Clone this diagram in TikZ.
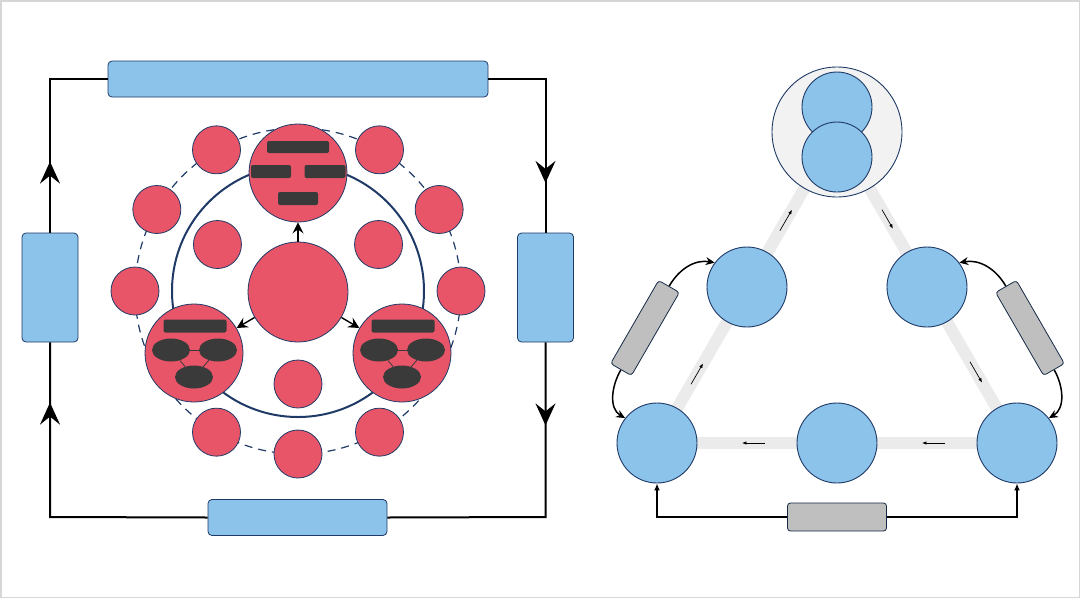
\documentclass[tikz,border=0pt]{standalone}
\usetikzlibrary{arrows.meta,shapes.geometric,decorations.markings,calc,backgrounds}
\definecolor{redc}{HTML}{E85568}
\definecolor{navy}{HTML}{1F3A66}
\definecolor{bluec}{HTML}{8BC3EB}
\definecolor{grayb}{HTML}{BFBFBF}
\definecolor{bandc}{HTML}{EBEBEB}
\definecolor{barc}{HTML}{3A3A3A}
\definecolor{palec}{HTML}{F2F2F2}
\definecolor{framec}{HTML}{D6D6D6}
\begin{document}
\begin{tikzpicture}[x=1pt,y=1pt,
  reddot/.style={circle,fill=redc,draw=navy,line width=0.8pt,inner sep=0pt,minimum size=#1},
  bluedot/.style={circle,fill=bluec,draw=navy,line width=0.9pt,inner sep=0pt,minimum size=#1},
  bluebox/.style={draw=navy,fill=bluec,rounded corners=4pt,line width=0.8pt,inner sep=0pt},
  graybox/.style={draw=navy!70!black,fill=grayb,rounded corners=3pt,line width=0.8pt,inner sep=0pt},
  barbox/.style={fill=barc,rounded corners=2pt,inner sep=0pt},
  darkell/.style={ellipse,fill=barc,inner sep=0pt,minimum width=38pt,minimum height=23pt},
  linkline/.style={draw=barc,line width=0.8pt},
  frameline/.style={draw=black,line width=2pt,line join=miter},
  markarrow/.style={postaction={decorate,decoration={markings,mark=at position #1 with {\arrow{Stealth[length=22pt,width=20pt,inset=8pt]}}}}},
  centerarrow/.style={draw=black,line width=1.4pt,-{Stealth[length=11pt,width=11pt,inset=4pt]}},
  bandline/.style={draw=bandc,line width=12pt},
  flowarrow/.style={draw=black,line width=0.7pt,-{Latex[length=4.5pt,width=3.5pt]}},
  curvearrow/.style={draw=black,line width=1.5pt,-{Stealth[length=9pt,width=8pt,inset=3pt]}},
  basearrow/.style={draw=black,line width=1.4pt,-{Latex[length=7pt,width=6pt]}}
]
\useasboundingbox (0,0) rectangle (1080,-598);
\draw[framec,line width=1.5pt] (0.75,-0.75) rectangle (1079.25,-597.25);

% ---------------- left panel ----------------
\coordinate (ftl) at (50,-79);
\coordinate (ftr) at (545.5,-79);
\coordinate (fbr) at (545.5,-517);
\coordinate (fbl) at (50,-517);
\node[bluebox,minimum width=380pt,minimum height=36pt] (topbox) at (298,-79) {};
\node[bluebox,minimum width=179pt,minimum height=36pt] (botbox) at (297.5,-517.5) {};
\node[bluebox,minimum width=56pt,minimum height=109pt] (lbox) at (50,-287.5) {};
\node[bluebox,minimum width=56pt,minimum height=109pt] (rbox) at (545.5,-287.5) {};

\path[frameline,markarrow=71pt] (lbox.north) -- (ftl) -- (topbox.west);
\path[frameline,markarrow=161pt] (topbox.east) -- (ftr) -- (rbox.north);
\path[frameline,markarrow=83pt] (rbox.south) -- (fbr) -- (botbox.east);
\path[frameline,markarrow=272pt] (botbox.west) -- (fbl) -- (lbox.south);

\coordinate (ctr) at (298,-291);
\draw[navy,line width=1.2pt,dash pattern=on 8pt off 6pt] (ctr) circle[radius=163pt];
\draw[navy,line width=2pt] (ctr) circle[radius=126pt];

\foreach \a in {0,30,60,120,150,180,240,270,300}
  \node[reddot=48pt] (o\a) at ($(ctr)+(\a:163pt)$) {};
\foreach \a in {30,150,270}
  \node[reddot=48pt] (i\a) at ($(ctr)+(\a:93pt)$) {};

\node[reddot=100pt] (cc) at (298,-292) {};
\node[reddot=98pt] (bigt) at (298,-173) {};
\node[reddot=98pt] (bigl) at (194,-353) {};
\node[reddot=98pt] (bigr) at (402,-353) {};

\draw[centerarrow] (cc) -- (bigt);
\draw[centerarrow] (cc) -- (bigl);
\draw[centerarrow] (cc) -- (bigr);

% bars in top circle
\node[barbox,minimum width=62pt,minimum height=12pt] (tb1) at (298,-147) {};
\node[barbox,minimum width=40pt,minimum height=13pt] (tb2) at (271,-171.5) {};
\node[barbox,minimum width=41pt,minimum height=13pt] (tb3) at (325,-171.5) {};
\node[barbox,minimum width=40pt,minimum height=13pt] (tb4) at (298,-198.5) {};

% bottom-left circle contents
\node[barbox,minimum width=63pt,minimum height=13pt] (lb1) at (195,-326) {};
\node[darkell] (le1) at (171,-350) {};
\node[darkell] (le2) at (218,-350) {};
\node[darkell] (le3) at (194,-377) {};
\draw[linkline] (le1) -- (le2);
\draw[linkline] (le1) -- (le3);
\draw[linkline] (le2) -- (le3);

% bottom-right circle contents
\node[barbox,minimum width=63pt,minimum height=13pt] (rb1) at (403,-326) {};
\node[darkell] (re1) at (379,-350) {};
\node[darkell] (re2) at (426,-350) {};
\node[darkell] (re3) at (402,-377) {};
\draw[linkline] (re1) -- (re2);
\draw[linkline] (re1) -- (re3);
\draw[linkline] (re2) -- (re3);

% ---------------- right panel ----------------
\node[circle,fill=palec,draw=navy,line width=0.9pt,inner sep=0pt,minimum size=130pt] (topg) at (837,-132) {};
\node[bluedot=70pt] (t1) at (837,-107) {};
\node[bluedot=70pt] (t2) at (837,-157) {};

\node[bluedot=80pt] (ul) at (747,-287) {};
\node[bluedot=80pt] (ur) at (927,-287) {};
\node[bluedot=80pt] (lb) at (657,-443) {};
\node[bluedot=80pt] (mb) at (837,-443) {};
\node[bluedot=80pt] (rb) at (1017,-443) {};

\begin{scope}[on background layer]
  \draw[bandline] (lb.center) -- (topg.center);
  \draw[bandline] (topg.center) -- (rb.center);
  \draw[bandline] (rb.center) -- (lb.center);
\end{scope}

\draw[flowarrow] ($(lb)!0.683!(topg)$) -- ($(lb)!0.75!(topg)$);
\draw[flowarrow] ($(lb)!0.189!(topg)$) -- ($(lb)!0.256!(topg)$);
\draw[flowarrow] ($(topg)!0.25!(rb)$) -- ($(topg)!0.311!(rb)$);
\draw[flowarrow] ($(topg)!0.739!(rb)$) -- ($(topg)!0.806!(rb)$);
\draw[flowarrow] ($(rb)!0.2!(lb)$) -- ($(rb)!0.264!(lb)$);
\draw[flowarrow] ($(rb)!0.7!(lb)$) -- ($(rb)!0.764!(lb)$);

\node[graybox,rotate=60,minimum width=96pt,minimum height=24pt] (lg) at (645,-328) {};
\node[graybox,rotate=-60,minimum width=96pt,minimum height=24pt] (rg) at (1030,-328) {};
\node[graybox,minimum width=99pt,minimum height=28pt] (bg) at (837,-517) {};

\draw[curvearrow] (lg.east) to[out=60,in=170] (ul.143);
\draw[curvearrow] (lg.west) to[out=240,in=150] (lb.142);
\draw[curvearrow] (rg.west) to[out=120,in=10] (ur.37);
\draw[curvearrow] (rg.east) to[out=-60,in=30] (rb.38);

\draw[basearrow] (bg.west) -| (lb.south);
\draw[basearrow] (bg.east) -| (rb.south);
\end{tikzpicture}
\end{document}
